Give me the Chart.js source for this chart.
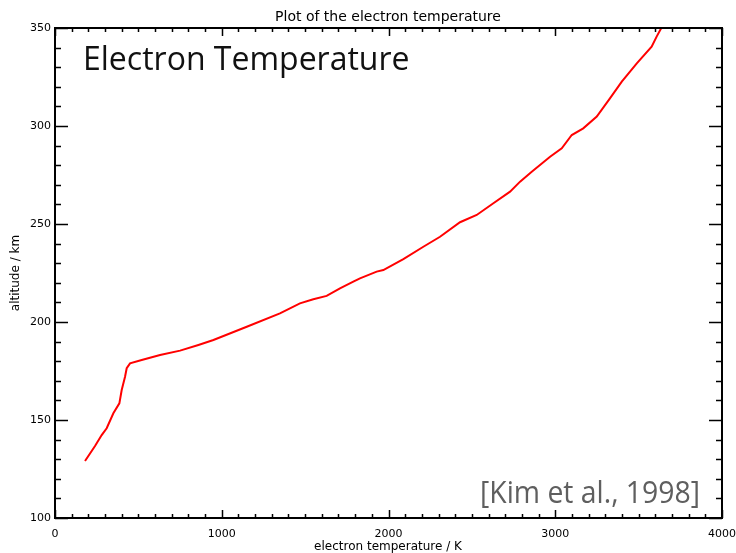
<!DOCTYPE html>
<html>
<head>
<meta charset="utf-8">
<script src="https://cdn.jsdelivr.net/npm/chart.js@4"></script>
<style>
  html, body { margin: 0; padding: 0; background: #fff; }
  #wrap { width: 736px; height: 553px; }
</style>
</head>
<body>
<div id="wrap"><canvas id="teChart"></canvas></div>
<script>
// electron temperature profile (K) against altitude (km)
const temperatures = [180, 240, 280, 310, 350, 386, 400, 420, 430, 450, 520, 630, 750, 860,
  950, 1150, 1349, 1469, 1549, 1629, 1709, 1789, 1829, 1929, 1969, 2089, 2209, 2309, 2429,
  2529, 2629, 2729, 2789, 2859, 2969, 3039, 3099, 3168, 3249, 3328, 3399, 3489, 3578, 3608, 3638];
const altitudes = [129.1, 136.7, 142.3, 145.8, 153.4, 158.5, 165.3, 172.1, 176.4, 178.9, 180.6, 183.2, 185.4, 188.3,
  190.8, 197.6, 204.4, 209.5, 211.6, 213.3, 217.2, 220.6, 222.3, 225.7, 226.5, 232.1, 238.4, 243.5, 250.9,
  254.6, 260.6, 266.5, 271.6, 276.7, 284.3, 288.6, 295.4, 298.8, 304.8, 314.1, 322.6, 332.0, 340.5, 345.6, 350.3];

const xTicks = [0, 1000, 2000, 3000, 4000];
const yTicks = [100, 150, 200, 250, 300, 350];

const points = temperatures.map((t, i) => ({ x: t, y: altitudes[i] }));

const tickFont = { family: 'DejaVu Sans', size: 11 };

// frame box with inward ticks on all four sides, plus the text labels
const framePlugin = {
  id: 'frame',
  afterDraw(chart) {
    const { ctx, chartArea: a, scales } = chart;
    const xs = scales.x, ys = scales.y;
    ctx.save();
    ctx.strokeStyle = '#000';
    ctx.lineWidth = 2;
    ctx.strokeRect(a.left, a.top, a.right - a.left, a.bottom - a.top);

    ctx.lineWidth = 1.5;
    ctx.beginPath();
    for (let v = 0; v <= 4000; v += 100) {
      const px = Math.round(xs.getPixelForValue(v)) + 0.5;
      const len = v % 1000 === 0 ? 8 : 4;
      ctx.moveTo(px, a.bottom); ctx.lineTo(px, a.bottom - len);
      ctx.moveTo(px, a.top); ctx.lineTo(px, a.top + len);
    }
    for (let v = 100; v <= 350; v += 10) {
      const py = Math.round(ys.getPixelForValue(v)) + 0.5;
      const len = v % 50 === 0 ? 13 : 6;
      ctx.moveTo(a.left, py); ctx.lineTo(a.left + len, py);
      ctx.moveTo(a.right, py); ctx.lineTo(a.right - len, py);
    }
    ctx.stroke();

    ctx.fillStyle = '#000';
    ctx.textAlign = 'center';
    ctx.textBaseline = 'alphabetic';
    ctx.font = '14px "DejaVu Sans"';
    ctx.fillText('Plot of the electron temperature', 388, 21, 237);
    ctx.font = '12px "DejaVu Sans"';
    ctx.fillText('electron temperature / K', 388, 550, 150);

    ctx.save();
    ctx.translate(19, 273);
    ctx.rotate(-Math.PI / 2);
    ctx.font = '12px "DejaVu Sans"';
    ctx.fillText('altitude / km', 0, 0, 80);
    ctx.restore();

    ctx.textAlign = 'left';
    ctx.fillStyle = '#111';
    ctx.font = '32px "Open Sans"';
    ctx.fillText('Electron Temperature', 83, 70, 332);
    ctx.fillStyle = '#5f5f5f';
    ctx.font = '31px "Open Sans"';
    ctx.fillText('[Kim et al., 1998]', 480, 503, 220);
    ctx.restore();
  }
};

new Chart(document.getElementById('teChart'), {
  type: 'scatter',
  data: {
    datasets: [{
      data: points,
      showLine: true,
      borderColor: '#ff0000',
      borderWidth: 2,
      pointRadius: 0,
      tension: 0,
      fill: false
    }]
  },
  options: {
    responsive: true,
    maintainAspectRatio: false,
    animation: false,
    layout: { padding: { top: 28, right: 14, bottom: 0, left: 0 } },
    plugins: { legend: { display: false }, tooltip: { enabled: false } },
    scales: {
      x: {
        type: 'linear',
        min: 0,
        max: 4000,
        afterBuildTicks: (s) => { s.ticks = xTicks.map(v => ({ value: v })); },
        afterFit: (s) => { s.height = 35; s.paddingLeft = 0; s.paddingRight = 0; },
        grid: { display: false },
        border: { display: false },
        ticks: { color: '#000', font: tickFont, padding: 2, maxRotation: 0, callback: (v) => String(v) }
      },
      y: {
        type: 'linear',
        min: 100,
        max: 350,
        afterBuildTicks: (s) => { s.ticks = yTicks.map(v => ({ value: v })); },
        afterFit: (s) => { s.width = 55; s.paddingTop = 0; s.paddingBottom = 0; },
        grid: { display: false },
        border: { display: false },
        ticks: { color: '#000', font: tickFont, padding: -4, callback: (v) => String(v) }
      }
    }
  },
  plugins: [framePlugin]
});
</script>
</body>
</html>
